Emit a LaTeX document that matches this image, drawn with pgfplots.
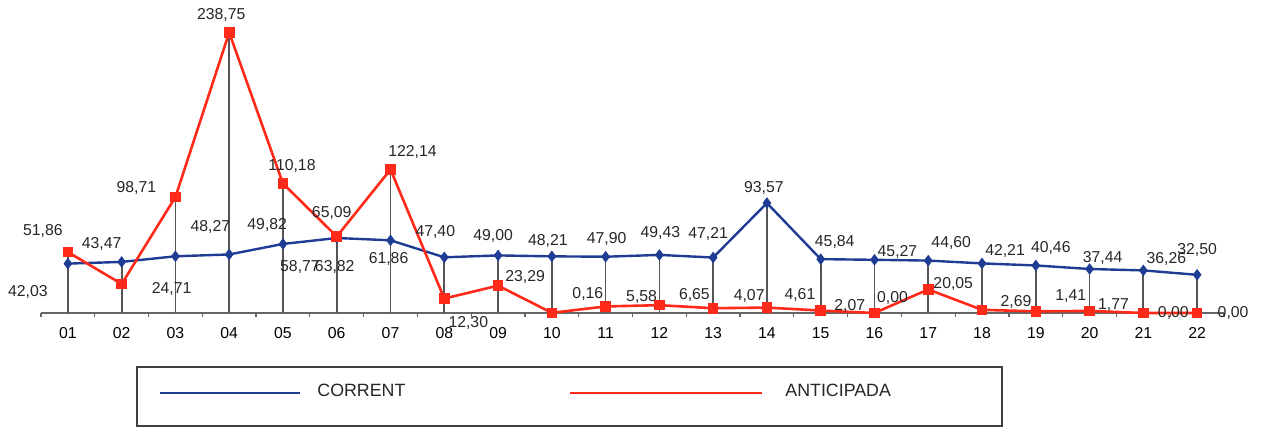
\documentclass[border=0pt]{standalone}
\usepackage{fontspec}
\setmainfont{Liberation Sans}
\usepackage{pgfplots}
\usepackage{pgfplotstable}
\pgfplotsset{compat=1.18}

\definecolor{corrent}{HTML}{1F3C94}
\definecolor{anticipada}{HTML}{FF2A1A}
\definecolor{dropline}{HTML}{555555}
\definecolor{labeltext}{HTML}{262626}

% month, CORRENT value and its label offset (px), ANTICIPADA value and its label offset (px)
\pgfplotstableread{
x   c      cdx  cdy   a       adx  ady
1   42.03  -40   28   51.86   -25  -21
2   43.47  -20  -18   24.71    50    5
3   48.27   35  -29   98.71   -39   -9
4   49.82   38  -29   238.75   -8  -17
5   58.77   17   23   110.18    9  -18
6   63.82   -2   29   65.09    -5  -24
7   61.86   -2   19   122.14   22  -17
8   47.40   -9  -25   12.30    24   24
9   49.00   -5  -19   23.29    27   -9
10  48.21   -4  -15   0.16     36  -19
11  47.90    1  -18   5.58     36   -9
12  49.43    1  -22   6.65     35  -10
13  47.21   -5  -24   4.07     36  -12
14  93.57   -3  -15   4.61     33  -13
15  45.84   14  -17   2.07     29   -5
16  45.27   23   -8   0.00     18  -15
17  44.60   23  -18   20.05    25   -5
18  42.21   23  -12   2.69     34   -8
19  40.46   15  -17   1.41     35  -15
20  37.44   13  -11   1.77     24   -6
21  36.26   23  -11   0.00     30    0
22  32.50    0  -25   0.00     36    0
}\mesos

\newcommand{\lblfont}{\fontsize{7.9}{9.5}\selectfont}

\begin{document}
\begin{tikzpicture}
\path[use as bounding box] (-20.5pt,-57.5pt) rectangle (611.5pt,156.5pt);
\begin{axis}[
  at={(0pt,0pt)}, anchor=south west,
  scale only axis, width=591.5pt, height=152.75pt,
  xmin=0.5, xmax=22.5, ymin=0, ymax=260,
  clip=false,
  axis y line=none, axis x line=bottom,
  x axis line style={-, draw=black!60, line width=0.8pt},
  tick align=outside,
  xtick={1,...,22},
  xticklabels={01,02,03,04,05,06,07,08,09,10,11,12,13,14,15,16,17,18,19,20,21,22},
  major tick length=0pt,
  extra x ticks={0.5,1.5,...,22.5},
  extra x tick labels={},
  extra x tick style={major tick length=2pt, tick style={draw=black!60, line width=0.6pt}},
  xticklabel style={font=\lblfont, text=black, anchor=center, yshift=-10pt},
  /pgf/number format/assume math mode=true,
  every node near coord/.append style={text=labeltext, font=\lblfont, anchor=center, inner sep=0pt,
    xshift={(\ldx)*0.5pt}, yshift={-(\ldy)*0.5pt}},
]
% drop lines from each point to the axis
\addplot[ycomb, draw=dropline, line width=0.85pt, mark=none, forget plot] table[x=x, y=c]{\mesos};
\addplot[ycomb, draw=dropline, line width=0.85pt, mark=none, forget plot] table[x=x, y=a]{\mesos};

\addplot[corrent, line width=1.2pt, mark=diamond*, mark size=2.5pt, mark options={fill=corrent, line width=0.5pt},
  visualization depends on={\thisrow{cdx} \as \ldx},
  visualization depends on={\thisrow{cdy} \as \ldy},
  nodes near coords={\pgfmathprintnumber[fixed,fixed zerofill,precision=2,use comma]{\pgfplotspointmeta}}]
  table[x=x, y=c]{\mesos};

\addplot[anticipada, line width=1.3pt, mark=square*, mark size=2.4pt, mark options={fill=anticipada, line width=0.5pt},
  visualization depends on={\thisrow{adx} \as \ldx},
  visualization depends on={\thisrow{ady} \as \ldy},
  nodes near coords={\pgfmathprintnumber[fixed,fixed zerofill,precision=2,use comma]{\pgfplotspointmeta}}]
  table[x=x, y=a]{\mesos};
\end{axis}

% legend box
\draw[black!75, line width=0.8pt] (48pt,-27pt) rectangle (480.5pt,-56.5pt);
\draw[black!75, line width=1.2pt] (480.5pt,-27pt) -- (480.5pt,-56.5pt);
\draw[corrent, line width=1.2pt] (59.5pt,-40pt) -- (129.5pt,-40pt);
\node[anchor=west, inner sep=0pt, font=\fontsize{8.9}{10.5}\selectfont, text=labeltext] at (138pt,-38.5pt) {CORRENT};
\draw[anticipada, line width=1.2pt] (264.5pt,-40pt) -- (360.5pt,-40pt);
\node[anchor=west, inner sep=0pt, font=\fontsize{8.9}{10.5}\selectfont, text=labeltext] at (372pt,-38.5pt) {ANTICIPADA};
\end{tikzpicture}
\end{document}
